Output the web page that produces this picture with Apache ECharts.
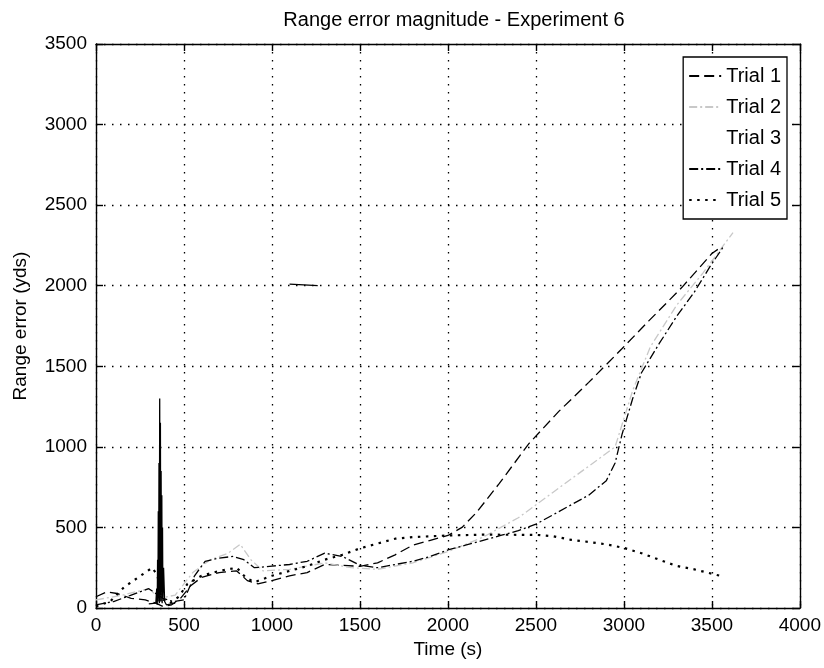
<!DOCTYPE html>
<html>
<head>
<meta charset="utf-8">
<title>Range error magnitude - Experiment 6</title>
<script src="https://cdn.jsdelivr.net/npm/echarts@6/dist/echarts.min.js"></script>
<style>
  html, body { margin: 0; padding: 0; background: #fff; }
  #chart { width: 824px; height: 668px; }
</style>
</head>
<body>
<div id="chart"></div>
<script>
// Range error (yds) against time (s) for the five trials of experiment 6
const trialNames = ['Trial 1', 'Trial 2', 'Trial 3', 'Trial 4', 'Trial 5'];

const trial1Time  = [0, 60, 120, 200, 280, 340, 380, 430, 480, 540, 600, 700, 800, 860, 920, 1000, 1100, 1200, 1300, 1400, 1500, 1600, 1700, 1800, 1900, 2000, 2080, 2160, 2290, 2460, 2630, 2800, 2990, 3140, 3330, 3500, 3540];
const trial1Error = [70, 100, 90, 60, 50, 30, 10, 20, 60, 140, 190, 220, 230, 170, 150, 170, 200, 220, 270, 265, 258, 280, 330, 390, 420, 450, 500, 590, 770, 1020, 1220, 1400, 1610, 1780, 1990, 2200, 2230];

const trial2Time  = [0, 150, 300, 360, 450, 550, 650, 750, 820, 880, 950, 1100, 1300, 1450, 1600, 1800, 2000, 2200, 2400, 2600, 2800, 2950, 3050, 3150, 3300, 3450, 3620];
const trial2Error = [50, 80, 120, 60, 80, 220, 300, 340, 395, 300, 230, 240, 280, 250, 240, 280, 350, 440, 560, 720, 880, 1000, 1350, 1620, 1880, 2080, 2330];

// transient burst around t = 360 s, then a short isolated stretch near 2000 yds
const trial3Time  = [300, 340, 345, 348, 350, 352, 354, 356, 358, 360, 362, 364, 366, 368, 370, 372, 374, 376, 378, 380, 384, 390, 400, 450, 800, 1100, 1260];
const trial3Error = [25, 30, 120, 20, 300, 40, 600, 60, 900, 30, 1300, 80, 1150, 40, 850, 100, 700, 30, 500, 60, 250, 40, 20, 30, '-', 2010, 2000];

const trial4Time  = [0, 100, 200, 300, 380, 440, 500, 560, 620, 700, 780, 840, 900, 1000, 1100, 1200, 1300, 1400, 1500, 1600, 1700, 1800, 1900, 2000, 2100, 2200, 2300, 2400, 2500, 2600, 2700, 2800, 2900, 2950, 2990, 3050, 3100, 3200, 3300, 3400, 3490, 3570];
const trial4Error = [20, 40, 80, 120, 60, 40, 50, 200, 290, 310, 320, 300, 250, 260, 270, 290, 340, 320, 265, 250, 270, 290, 320, 360, 390, 420, 450, 480, 520, 580, 640, 700, 790, 900, 1080, 1300, 1460, 1640, 1810, 1960, 2120, 2250];

const trial5Time  = [0, 80, 160, 240, 320, 350, 370, 420, 470, 520, 600, 700, 800, 850, 900, 1000, 1100, 1200, 1300, 1400, 1500, 1600, 1700, 1800, 2000, 2200, 2500, 2600, 2700, 2800, 2900, 3000, 3100, 3200, 3300, 3400, 3550];
const trial5Error = [10, 40, 130, 190, 250, 200, 60, 30, 70, 150, 200, 230, 250, 190, 160, 200, 230, 260, 300, 330, 370, 400, 430, 440, 450, 455, 454, 445, 423, 410, 395, 373, 340, 300, 261, 240, 199];

const timeTicks  = { min: 0, max: 4000, step: 500 };
const errorTicks = { min: 0, max: 3500, step: 500 };

function pairs(t, e) { return t.map((v, i) => [v, e[i]]); }

const FONT = 'Liberation Sans, Arial, sans-serif';

const styles = [
  { color: '#000000', width: 1.3, type: [10, 5] },
  { color: '#c8c8c8', width: 1.3, type: [8, 3, 2, 3] },
  { color: '#000000', width: 1.3, type: 'solid' },
  { color: '#000000', width: 1.3, type: [9, 3, 2, 3] },
  { color: '#000000', width: 2.2, type: [2.5, 5.5] }
];
const dataSets = [
  pairs(trial1Time, trial1Error),
  pairs(trial2Time, trial2Error),
  pairs(trial3Time, trial3Error),
  pairs(trial4Time, trial4Error),
  pairs(trial5Time, trial5Error)
];

const series = trialNames.map((name, i) => ({
  name: name,
  type: 'line',
  xAxisIndex: 0,
  yAxisIndex: 0,
  data: dataSets[i],
  symbol: 'none',
  showSymbol: false,
  connectNulls: false,
  animation: false,
  color: styles[i].color,
  lineStyle: { color: styles[i].color, width: styles[i].width, type: styles[i].type }
}));

const dottedGrid = { show: true, lineStyle: { color: '#000', width: 1.3, type: [1.5, 6.5] } };
const frameLine = { show: true, onZero: false, lineStyle: { color: '#000', width: 1.4 } };
const innerTick = { show: true, inside: true, length: 7, lineStyle: { color: '#000', width: 1.4 } };
const plain = v => String(v);
const tickText = { color: '#000', fontFamily: FONT, fontSize: 19, formatter: plain };

const chart = echarts.init(document.getElementById('chart'), null, { renderer: 'canvas' });
chart.setOption({
  backgroundColor: '#ffffff',
  animation: false,
  title: {
    text: 'Range error magnitude - Experiment 6',
    left: 449, top: 5, textAlign: 'center',
    textStyle: { color: '#000', fontFamily: FONT, fontSize: 20, fontWeight: 'normal' }
  },
  grid: { left: 96, right: 21, top: 44, bottom: 60, containLabel: false },
  legend: {
    orient: 'vertical',
    right: 37, top: 57,
    backgroundColor: '#ffffff',
    borderColor: '#000', borderWidth: 1.3, borderRadius: 0,
    padding: [9, 6, 9, 5],
    itemWidth: 32, itemHeight: 19, itemGap: 11,
    itemStyle: { opacity: 0 },
    textStyle: { color: '#000', fontFamily: FONT, fontSize: 20, lineHeight: 19 },
    data: trialNames.map((n, i) => i === 2
      ? { name: n, lineStyle: { opacity: 0 }, itemStyle: { opacity: 0 } }
      : { name: n, itemStyle: { opacity: 0 } })
  },
  xAxis: [
    {
      type: 'value', position: 'bottom',
      min: timeTicks.min, max: timeTicks.max, interval: timeTicks.step,
      name: 'Time (s)', nameLocation: 'middle', nameGap: 30,
      nameTextStyle: { color: '#000', fontFamily: FONT, fontSize: 19 },
      axisLine: frameLine, axisTick: innerTick,
      axisLabel: Object.assign({ margin: 8 }, tickText),
      splitLine: dottedGrid
    },
    {
      type: 'value', position: 'top',
      min: timeTicks.min, max: timeTicks.max, interval: timeTicks.step,
      axisLine: frameLine, axisTick: innerTick,
      axisLabel: { show: false }, splitLine: { show: false }
    }
  ],
  yAxis: [
    {
      type: 'value', position: 'left',
      min: errorTicks.min, max: errorTicks.max, interval: errorTicks.step,
      name: 'Range error (yds)', nameLocation: 'middle', nameGap: 66,
      nameTextStyle: { color: '#000', fontFamily: FONT, fontSize: 19 },
      axisLine: frameLine, axisTick: innerTick,
      axisLabel: Object.assign({ margin: 9 }, tickText),
      splitLine: dottedGrid
    },
    {
      type: 'value', position: 'right',
      min: errorTicks.min, max: errorTicks.max, interval: errorTicks.step,
      axisLine: frameLine, axisTick: innerTick,
      axisLabel: { show: false }, splitLine: { show: false }
    }
  ],
  series: series
});
</script>
</body>
</html>
